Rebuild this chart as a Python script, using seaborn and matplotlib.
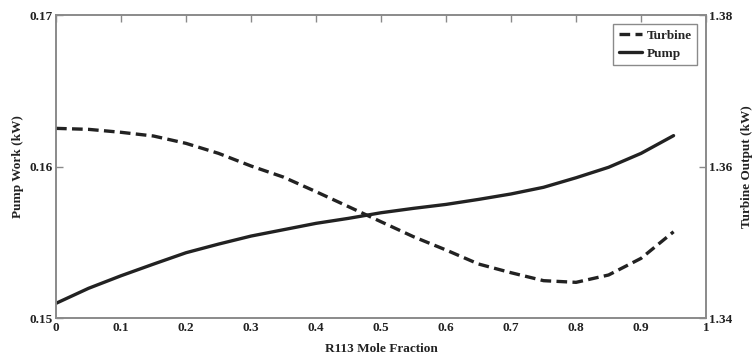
import matplotlib
matplotlib.use("Agg")
import matplotlib.pyplot as plt
import seaborn as sns
import pandas as pd

# R113 mole fraction sweep
mole_fraction = [0.0, 0.05, 0.1, 0.15, 0.2, 0.25, 0.3, 0.35, 0.4, 0.45, 0.5,
                 0.55, 0.6, 0.65, 0.7, 0.75, 0.8, 0.85, 0.9, 0.95]
# Pump work (kW), left axis
pump_work = [0.15097, 0.15196, 0.15279, 0.15356, 0.15431, 0.15488, 0.15541,
             0.15583, 0.15625, 0.15658, 0.15695, 0.15724, 0.15750, 0.15783,
             0.15819, 0.15863, 0.15926, 0.15995, 0.16087, 0.16204]
# Turbine output (kW), right axis
turbine_output = [1.36504, 1.36491, 1.36452, 1.36403, 1.36306, 1.36174, 1.36007,
                  1.35860, 1.35668, 1.35470, 1.35271, 1.35073, 1.34898, 1.34713,
                  1.34598, 1.34493, 1.34471, 1.34568, 1.34788, 1.35139]

x_ticks = [0, 0.1, 0.2, 0.3, 0.4, 0.5, 0.6, 0.7, 0.8, 0.9, 1]
x_tick_labels = ["0", "0.1", "0.2", "0.3", "0.4", "0.5", "0.6", "0.7", "0.8", "0.9", "1"]
left_ticks = [0.15, 0.16, 0.17]
left_tick_labels = ["0.15", "0.16", "0.17"]
right_ticks = [1.34, 1.36, 1.38]
right_tick_labels = ["1.34", "1.36", "1.38"]

sns.set_style("white")
plt.rcParams["font.family"] = ["Liberation Serif", "DejaVu Serif"]
plt.rcParams["font.weight"] = "bold"

df = pd.DataFrame({"x": mole_fraction, "pump": pump_work, "turbine": turbine_output})

fig = plt.figure(figsize=(7.55, 3.56), dpi=100)
ax = fig.add_axes([0.0742, 0.1067, 0.861, 0.851])
ax2 = ax.twinx()

spine_color = "#8a8a8a"
line_color = "#222222"
text_color = "#222222"

sns.lineplot(data=df, x="x", y="pump", ax=ax, color=line_color, lw=2.4, label="Pump")
sns.lineplot(data=df, x="x", y="turbine", ax=ax2, color=line_color, lw=2.4,
             linestyle=(0, (3.2, 1.6)), label="Turbine")

ax.set_xlim(0, 1)
ax.set_ylim(0.15, 0.17)
ax2.set_ylim(1.34, 1.38)
ax.set_xticks(x_ticks)
ax.set_xticklabels(x_tick_labels)
ax.set_yticks(left_ticks)
ax.set_yticklabels(left_tick_labels)
ax2.set_yticks(right_ticks)
ax2.set_yticklabels(right_tick_labels)

for a in (ax, ax2):
    for s in a.spines.values():
        s.set_color(spine_color)
        s.set_linewidth(1.2)
    a.tick_params(direction="in", length=5, width=1, color=spine_color,
                  labelsize=9.5, pad=2, labelcolor=text_color)
ax.tick_params(axis="x", top=True, pad=3)
for lbl in ax.get_xticklabels() + ax.get_yticklabels() + ax2.get_yticklabels():
    lbl.set_fontweight("bold")

ax.set_xlabel("R113 Mole Fraction", fontsize=9.5, fontweight="bold", color=text_color, labelpad=6)
ax.set_ylabel("Pump Work (kW)", fontsize=9.5, fontweight="bold", color=text_color, labelpad=4)
ax2.set_ylabel("Turbine Output (kW)", fontsize=9.5, fontweight="bold", color=text_color,
               rotation=90, labelpad=6)

ax.get_legend().remove()
h1, l1 = ax2.get_legend_handles_labels()
h0, l0 = ax.get_legend_handles_labels()
ax2.get_legend().remove()
leg = ax2.legend(h1 + h0, l1 + l0, loc="upper right", fancybox=False, framealpha=1,
                 edgecolor=spine_color, handlelength=1.8, handletextpad=0.3,
                 borderpad=0.4, labelspacing=0.45, prop={"weight": "bold", "size": 9.5},
                 borderaxespad=0.7)
leg.get_frame().set_linewidth(1.0)

fig.savefig("out.png", dpi=100)
